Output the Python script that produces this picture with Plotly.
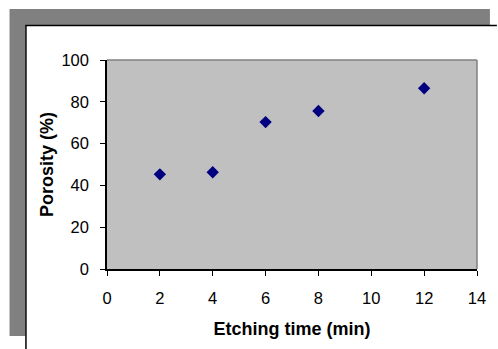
import plotly.graph_objects as go

# Porosity measured after different etching times
etching_time_min = [2, 4, 6, 8, 12]
porosity_pct = [45.3, 46.3, 70.3, 75.6, 86.5]

x_ticks = [0, 2, 4, 6, 8, 10, 12, 14]
y_ticks = [0, 20, 40, 60, 80, 100]

W, H = 498, 349
L, R, T, B = 107, 19, 60, 80
pw, ph = W - L - R, H - T - B


def px(x):
    return (x - L) / pw


def py(y):
    return (H - B - y) / ph


font = "Arial, Liberation Sans, sans-serif"

fig = go.Figure(
    go.Scatter(
        x=etching_time_min,
        y=porosity_pct,
        mode="markers",
        marker=dict(symbol="diamond", size=9.5, color="#000080",
                    line=dict(width=0)),
        hoverinfo="x+y",
    )
)

frame_gray = "#808080"
shapes = [
    # shadow bands of the chart frame
    dict(type="rect", xref="paper", yref="paper",
         x0=px(9), x1=px(492), y0=py(9), y1=py(25),
         fillcolor=frame_gray, line=dict(width=0), layer="below"),
    dict(type="rect", xref="paper", yref="paper",
         x0=px(9), x1=px(25), y0=py(25), y1=py(336),
         fillcolor=frame_gray, line=dict(width=0), layer="below"),
    # frame border lines
    dict(type="line", xref="paper", yref="paper",
         x0=px(25), x1=px(499), y0=py(25.5), y1=py(25.5),
         line=dict(color="black", width=1.5)),
    dict(type="line", xref="paper", yref="paper",
         x0=px(25.5), x1=px(25.5), y0=py(25), y1=py(350),
         line=dict(color="black", width=1.5)),
    # plot-area border (top and right)
    dict(type="line", xref="paper", yref="paper",
         x0=0, x1=1, y0=1, y1=1, line=dict(color=frame_gray, width=1.5)),
    dict(type="line", xref="paper", yref="paper",
         x0=1, x1=1, y0=0, y1=1, line=dict(color=frame_gray, width=1.5)),
]

fig.update_layout(
    width=W, height=H,
    margin=dict(l=L, r=R, t=T, b=B, pad=0),
    paper_bgcolor="white",
    plot_bgcolor="#C0C0C0",
    showlegend=False,
    font=dict(family=font, size=16, color="black"),
    shapes=shapes,
)

fig.update_xaxes(
    range=[0, 14], tickvals=x_ticks, ticktext=[str(v) for v in x_ticks],
    showgrid=False, zeroline=False,
    showline=True, linecolor="black", linewidth=1.5,
    ticks="outside", ticklen=5, tickcolor="black", tickwidth=1,
    ticklabelstandoff=8,
    tickfont=dict(size=16.5),
    title=dict(text="<b>Etching time (min)</b>",
               font=dict(size=18), standoff=17),
)
fig.update_yaxes(
    range=[0, 100], tickvals=y_ticks, ticktext=[str(v) for v in y_ticks],
    showgrid=False, zeroline=False,
    showline=True, linecolor="black", linewidth=1.5,
    ticks="outside", ticklen=5, tickcolor="black", tickwidth=1,
    ticklabelstandoff=8,
    tickfont=dict(size=16.5),
    title=dict(text="<b>Porosity (%)</b>",
               font=dict(size=18), standoff=3),
)

fig.write_html("out.html")
